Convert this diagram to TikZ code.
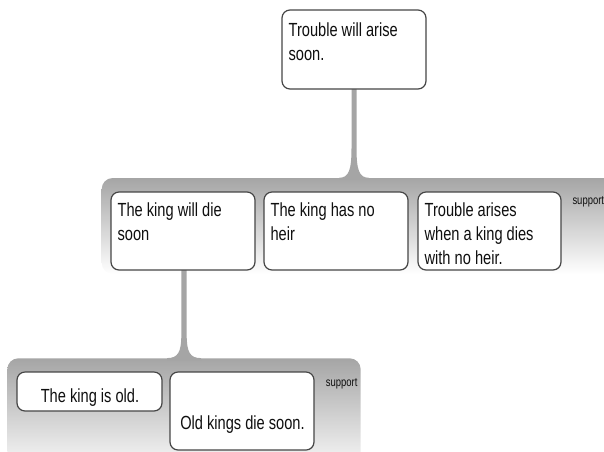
\documentclass[tikz,border=0pt]{standalone}
\usepackage{fontspec}
\setmainfont{Liberation Sans}[FakeStretch=0.77]
\usetikzlibrary{calc}
\pgfdeclarelayer{bg}
\pgfsetlayers{bg,main}
\definecolor{bandgray}{RGB}{165,165,165}
\definecolor{boxline}{RGB}{70,70,70}
\definecolor{inkc}{RGB}{15,15,15}
\tikzset{
  claim/.style={draw=boxline, line width=1.2pt, rounded corners=8pt, fill=white, rectangle,
    inner sep=0pt, minimum width=144pt, minimum height=78pt},
  claimtext/.style={inner sep=0pt, align=left, anchor=north west, text=inkc,
    font=\fontsize{19}{24.3}\selectfont},
  centertext/.style={inner sep=0pt, anchor=base, text=inkc,
    font=\fontsize{19}{24.3}\selectfont},
  band/.style={rectangle, rounded corners=11pt, top color=bandgray, bottom color=white, inner sep=0pt},
  supportlabel/.style={inner sep=0pt, anchor=base west, text=inkc,
    font=\fontsize{12.3}{14}\selectfont},
  connector/.style={fill=bandgray},
}
\begin{document}
\begin{tikzpicture}[x=1pt,y=-1pt]
\useasboundingbox (0,0) rectangle (604,451);
\begin{pgfonlayer}{bg}
  \node[band, minimum width=540pt, minimum height=96pt] (g1) at (371.7,226) {};
  \node[band, minimum width=353.4pt, minimum height=118pt] (g2) at (184,417.3) {};
\end{pgfonlayer}
% claim boxes
\node[claim, minimum height=79pt] (top) at (354,49.5) {};
\node[claim] (kdie) at (183,231) {};
\node[claim] (heir) at (336,231) {};
\node[claim, minimum width=143pt] (rule) at (489.5,231) {};
\node[claim, minimum width=145pt, minimum height=39pt] (old) at (89.5,391.5) {};
\node[claim] (oldk) at (242,411) {};
% texts
\node[claimtext] (topT) at ([shift={(7,13.3)}]top.north west) {Trouble will arise\\soon.};
\node[claimtext] (kdieT) at ([shift={(7,11)}]kdie.north west) {The king will die\\soon};
\node[claimtext] (heirT) at ([shift={(7,11)}]heir.north west) {The king has no\\heir};
\node[claimtext] (ruleT) at ([shift={(7,11)}]rule.north west) {Trouble arises\\when a king dies\\with no heir.};
\node[centertext] (oldT) at ([shift={(0.5,-9.3)}]old.south) {The king is old.};
\node[centertext] (oldkT) at ([shift={(0.5,18)}]oldk.center) {Old kings die soon.};
\node[supportlabel] (sup1) at ([shift={(10.7,13)}]rule.north east) {support};
\node[supportlabel] (sup2) at ([shift={(11,15)}]oldk.north east) {support};
% connectors
\begin{pgfonlayer}{bg}
  \coordinate (j1) at (top.south |- g1.north);
  \fill[connector] ($(top.south)+(-2.5,-1)$) -- ($(j1)+(-2.5,-30)$)
    .. controls ($(j1)+(-2.5,-8)$) and ($(j1)+(-5,0)$) .. ($(j1)+(-15,0)$)
    -- ($(j1)+(-15,2)$) -- ($(j1)+(15,2)$) -- ($(j1)+(15,0)$)
    .. controls ($(j1)+(5,0)$) and ($(j1)+(2.5,-8)$) .. ($(j1)+(2.5,-30)$)
    -- ($(top.south)+(2.5,-1)$) -- cycle;
  \coordinate (j2) at ([xshift=1pt]kdie.south |- g2.north);
  \coordinate (s2) at ([xshift=1pt]kdie.south);
  \fill[connector] ($(s2)+(-2.7,-1)$) -- ($(j2)+(-2.7,-23)$)
    .. controls ($(j2)+(-2.7,-6)$) and ($(j2)+(-6,0)$) .. ($(j2)+(-17,0)$)
    -- ($(j2)+(-17,2)$) -- ($(j2)+(17,2)$) -- ($(j2)+(17,0)$)
    .. controls ($(j2)+(6,0)$) and ($(j2)+(2.7,-6)$) .. ($(j2)+(2.7,-23)$)
    -- ($(s2)+(2.7,-1)$) -- cycle;
\end{pgfonlayer}
\end{tikzpicture}
\end{document}
